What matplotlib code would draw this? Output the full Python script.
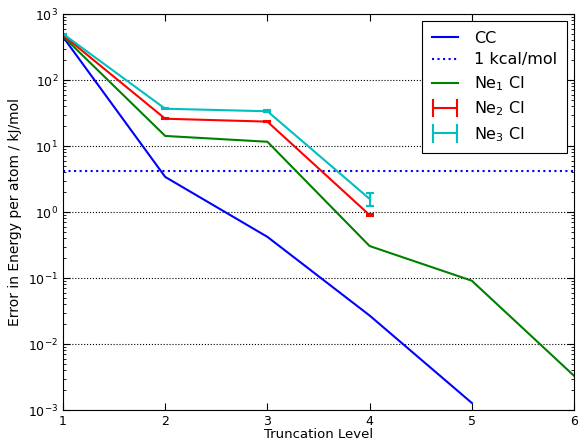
import matplotlib
matplotlib.use("Agg")
import matplotlib.pyplot as plt
from matplotlib.legend_handler import HandlerBase
from matplotlib.lines import Line2D
from matplotlib.container import ErrorbarContainer

levels_cc = [1, 2, 3, 4, 5]
cc = [450, 3.4, 0.42, 0.027, 0.00128]

kcal_line = 4.184

levels_ne1 = [1, 2, 3, 4, 5, 6]
ne1 = [460, 14.2, 11.6, 0.305, 0.091, 0.0033]

levels_ne2 = [1, 2, 3, 4]
ne2 = [480, 25.9, 23.4, 0.90]
ne2_err = [0.0, 0.3, 0.4, 0.04]

levels_ne3 = [1, 2, 3, 4]
ne3 = [500, 36.7, 33.6, 1.58]
ne3_err = [0.0, 0.4, 1.0, 0.33]

plt.rcParams['font.family'] = ['DejaVu Sans']
plt.rcParams['mathtext.fontset'] = 'dejavusans'


class HandlerH(HandlerBase):
    def create_artists(self, legend, orig_handle, xdescent, ydescent,
                       width, height, fontsize, trans):
        line = orig_handle.lines[0]
        c = line.get_color()
        lw = line.get_linewidth()
        y = height / 2.0 - ydescent
        h = height * 0.75
        x0 = -xdescent + 1
        x1 = -xdescent + width - 1
        arts = [
            Line2D([x0, x1], [y, y], color=c, lw=lw, transform=trans),
            Line2D([x0, x0], [y - h, y + h], color=c, lw=lw, transform=trans),
            Line2D([x1, x1], [y - h, y + h], color=c, lw=lw, transform=trans),
        ]
        return arts


fig = plt.figure(figsize=(5.8, 4.44), dpi=100)
ax = fig.add_axes([63/580, 34/444, 511/580, 396/444])

ax.plot(levels_cc, cc, color='b', lw=1.5, label='CC')
ax.axhline(kcal_line, color='b', ls=':', lw=1.5, label='1 kcal/mol')
ax.plot(levels_ne1, ne1, color='g', lw=1.5, label='Ne$_1$ CI')
ax.errorbar(levels_ne2, ne2, yerr=ne2_err, color='r', lw=1.5, capsize=3,
            capthick=1.5, label='Ne$_2$ CI')
ax.errorbar(levels_ne3, ne3, yerr=ne3_err, color='c', lw=1.5, capsize=3,
            capthick=1.5, label='Ne$_3$ CI')

ax.set_yscale('log')
ax.set_xlim(1, 6)
ax.set_ylim(1e-3, 1e3)
ax.set_xticks([1, 2, 3, 4, 5, 6])
ax.yaxis.grid(True, which='major', color='k', ls=':', lw=0.8)
ax.tick_params(which='both', direction='in', top=True, right=True, labelsize=9)
ax.tick_params(which='major', length=5)
ax.tick_params(which='minor', length=2.5)
ax.set_xlabel('Truncation Level', fontsize=9.5, labelpad=0)
ax.set_ylabel('Error in Energy per atom / kJ/mol', fontsize=10, labelpad=4)

leg = ax.legend(loc='upper right', fontsize=11.5, fancybox=False, framealpha=1,
                edgecolor='k', handlelength=1.65, handletextpad=1.0,
                borderaxespad=0.45, labelspacing=0.42, borderpad=0.6,
                handler_map={ErrorbarContainer: HandlerH()})
leg.get_frame().set_linewidth(0.8)

fig.savefig('out.png', dpi=100)
